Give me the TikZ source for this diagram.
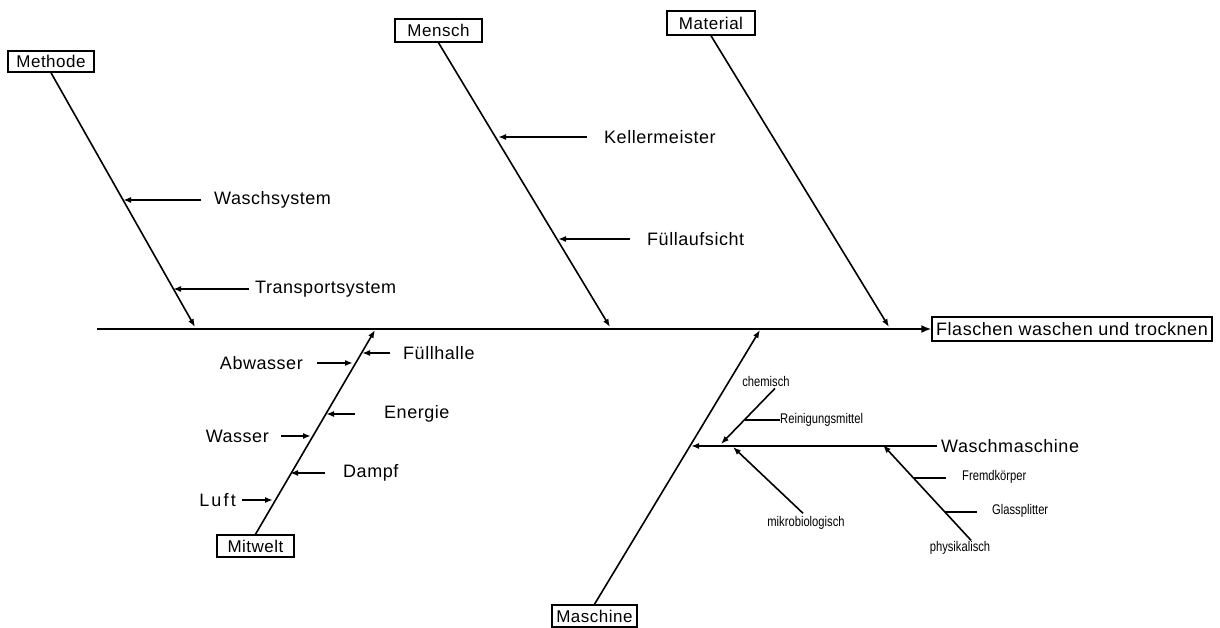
\documentclass[tikz,border=0pt]{standalone}
\usepackage{fontspec}
\setmainfont{Liberation Sans}[LetterSpace=3]
\newfontfamily\narrowfont{Liberation Sans}[FakeStretch=0.8]
\usetikzlibrary{arrows.meta}

\begin{document}
\begin{tikzpicture}[x=1pt,y=-1pt,
  bone/.style={line width=1.6pt},
  tip/.style={-{Latex[length=8pt,width=6pt]}},
  cat/.style={draw,line width=1.5pt,inner sep=0pt,font=\fontsize{17}{19}\selectfont},
  lbl/.style={inner sep=0pt,font=\fontsize{18}{20}\selectfont},
  sml/.style={inner sep=0pt,font=\narrowfont\fontsize{14}{16}\selectfont},
]
\useasboundingbox[fill=white] (0,0) rectangle (1220,628);

% category boxes and effect box
\node[cat,minimum width=86pt,minimum height=21pt] (methode)  at (51,61.5)   {Methode};
\node[cat,minimum width=87pt,minimum height=23pt] (mensch)   at (438.5,30.5) {Mensch};
\node[cat,minimum width=88pt,minimum height=24pt] (material) at (711,23)    {Material};
\node[cat,minimum width=77pt,minimum height=22pt] (mitwelt)  at (255.5,546) {Mitwelt};
\node[cat,minimum width=85pt,minimum height=22pt] (maschine) at (594.5,616) {Maschine};
\node[cat,minimum width=280pt,minimum height=24pt,font=\fontsize{18}{20}\selectfont] (effect) at (1072,329) {Flaschen waschen und trocknen};

% spine
\coordinate (tail) at (97,329);
\draw[bone,-{Latex[length=10pt,width=8pt]}] (tail) -- (effect.west);

% main bones
\coordinate (jmethode)  at (195,327);
\coordinate (jmensch)   at (610,327);
\coordinate (jmaterial) at (889,327);
\coordinate (jmitwelt)  at (375,330);
\coordinate (jmaschine) at (760,330);
\draw[bone,tip] (methode.south)  -- (jmethode);
\draw[bone,tip] (mensch.south)   -- (jmensch);
\draw[bone,tip] (material.south) -- (jmaterial);
\draw[bone,tip] (mitwelt.north)  -- (jmitwelt);
\draw[bone,tip] (maschine.north) -- (jmaschine);

% Methode causes
\node[lbl,anchor=west] (waschsys) at (214,200) {Waschsystem};
\node[lbl,anchor=west] (transsys) at (255,289) {Transportsystem};
\coordinate (bws) at (123,200);
\coordinate (bts) at (173,289);
\draw[bone,tip] ([xshift=-13pt]waschsys.west) -- (bws);
\draw[bone,tip] ([xshift=-6pt]transsys.west) -- (bts);

% Mensch causes
\node[lbl,anchor=west] (keller) at (604,137) {Kellermeister};
\node[lbl,anchor=west] (fuell)  at (647,239) {Füllaufsicht};
\coordinate (bkm) at (498,137);
\coordinate (bfa) at (558,239);
\draw[bone,tip] ([xshift=-17pt]keller.west) -- (bkm);
\draw[bone,tip] ([xshift=-17pt]fuell.west) -- (bfa);

% Mitwelt causes
\node[lbl,anchor=west] (fhalle)  at (403,353) {Füllhalle};
\node[lbl,anchor=east] (abwasser) at (303,363) {Abwasser};
\node[lbl,anchor=west] (energie) at (384,414) {Energie};
\node[lbl,anchor=east] (wasser)  at (269,436) {Wasser};
\node[lbl,anchor=west] (dampf)   at (343,473) {Dampf};
\node[lbl,anchor=east,font=\fontsize{18}{20}\selectfont\addfontfeature{LetterSpace=12}] (luft) at (236,500) {Luft};
\coordinate (bfh) at (362,353);
\coordinate (baw) at (353,363);
\coordinate (ben) at (326,414);
\coordinate (bwa) at (311,436);
\coordinate (bda) at (290,473);
\coordinate (blu) at (273,500);
\draw[bone,tip] ([xshift=-13pt]fhalle.west) -- (bfh);
\draw[bone,tip] ([xshift=14pt]abwasser.east) -- (baw);
\draw[bone,tip] ([xshift=-29pt]energie.west) -- (ben);
\draw[bone,tip] ([xshift=12pt]wasser.east) -- (bwa);
\draw[bone,tip] ([xshift=-18pt]dampf.west) -- (bda);
\draw[bone,tip] ([xshift=6pt]luft.east) -- (blu);

% Maschine: Waschmaschine branch
\node[lbl,anchor=west] (waschm) at (941,446) {Waschmaschine};
\coordinate (bwm) at (691,446);
\draw[bone,tip] ([xshift=-4pt]waschm.west) -- (bwm);

% sub-causes on the Waschmaschine branch
\node[sml] (chem)  at (766,381) {chemisch};
\node[sml] (mikro) at (806,523) {mikrobiologisch};
\node[sml] (phys)  at (960,548) {physikalisch};
\coordinate (cchem)  at (721,444);
\coordinate (cmikro) at (733,447);
\coordinate (cphys)  at (883,445);
\draw[bone,tip] ([xshift=9pt,yshift=-2pt]chem.south) -- (cchem);
\draw[bone,tip] ([xshift=-3pt,yshift=3pt]mikro.north) -- (cmikro);
\draw[bone,tip] ([xshift=11pt,yshift=1pt]phys.north) -- (cphys);

\node[sml,anchor=west] (rein)  at (780,420) {Reinigungsmittel};
\node[sml,anchor=west] (fremd) at (962,477) {Fremdkörper};
\node[sml,anchor=west] (glas)  at (992,511) {Glassplitter};
\coordinate (srein)  at (745,420);
\coordinate (sfremd) at (913,478);
\coordinate (sglas)  at (945,512);
\draw[bone] (srein) -- (rein.west);
\draw[bone] (sfremd) -- ([xshift=-16pt,yshift=-1pt]fremd.west);
\draw[bone] (sglas) -- ([xshift=-15pt,yshift=-1pt]glas.west);
\end{tikzpicture}
\end{document}
